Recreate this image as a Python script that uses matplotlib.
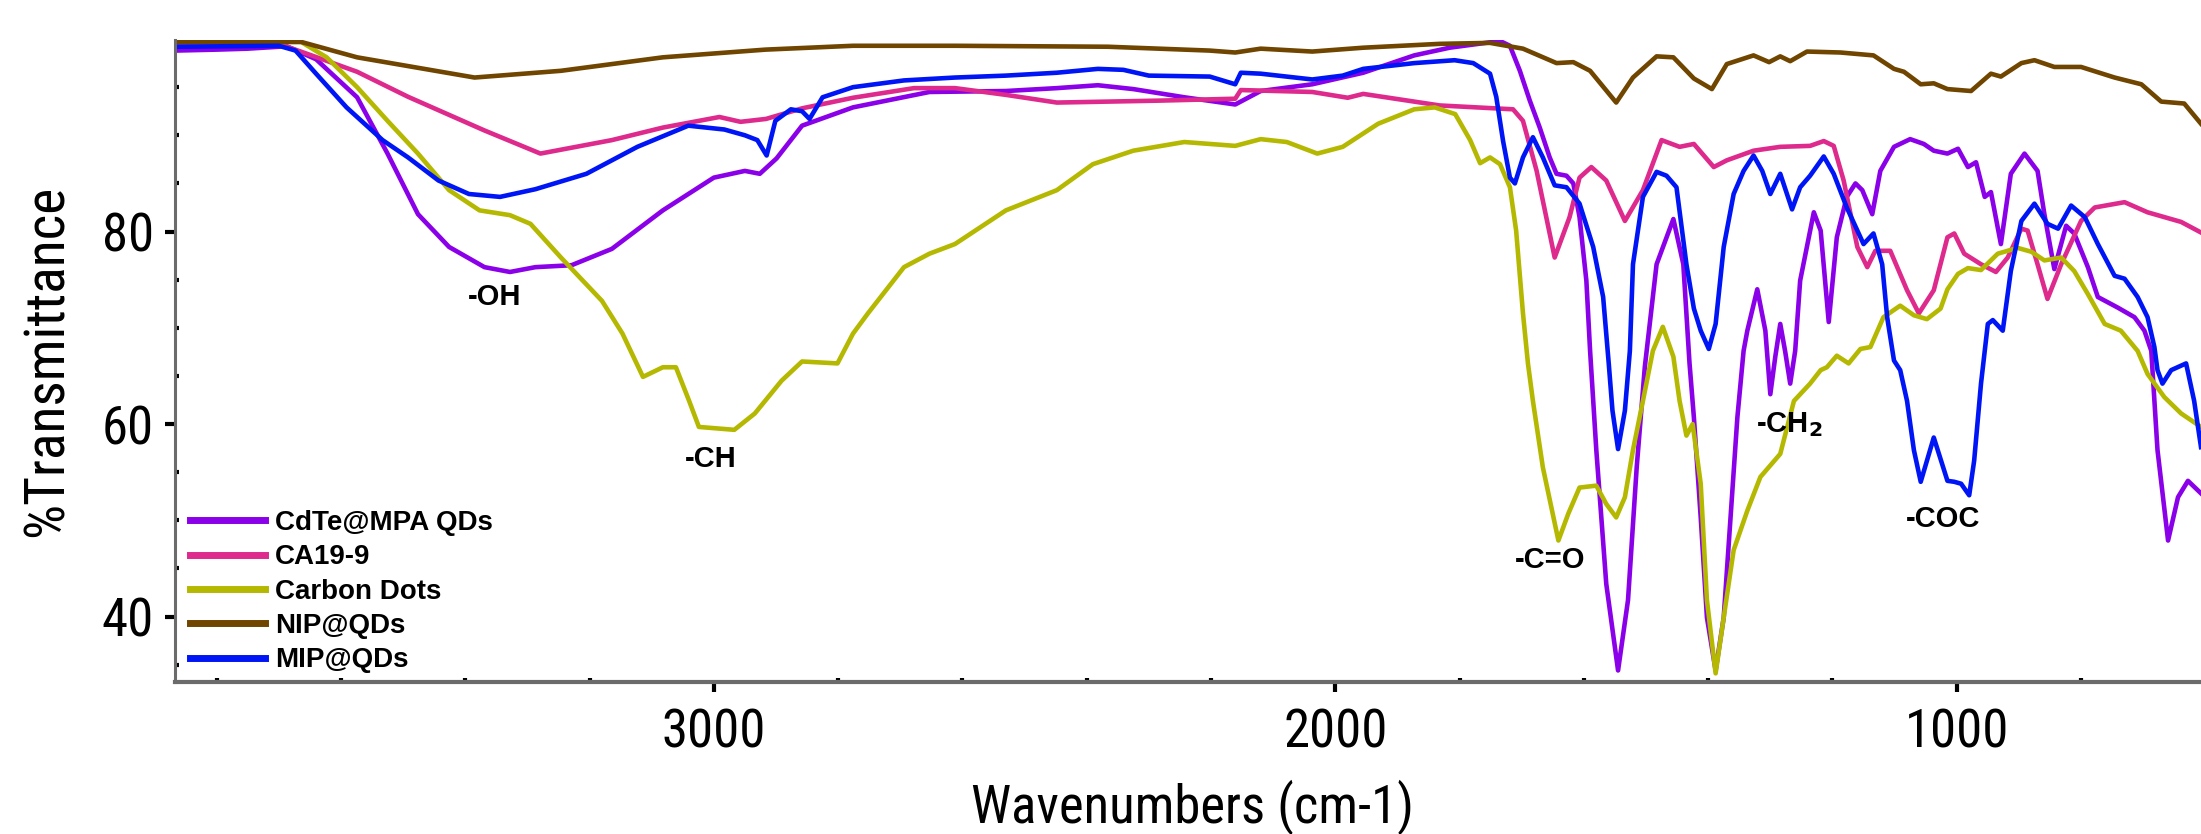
import matplotlib
matplotlib.use('Agg')
import logging
import matplotlib.pyplot as plt
from matplotlib.ticker import MultipleLocator, FixedLocator

logging.getLogger('matplotlib.font_manager').setLevel(logging.ERROR)

# FTIR spectra (wavenumber cm-1, %T)
cdte_wn = [3867, 3800, 3750, 3700, 3689, 3640, 3574, 3525, 3476, 3426, 3369, 3328, 3287, 3229, 3164,
           3082, 3000, 2950, 2926, 2899, 2858, 2776, 2653, 2530, 2448, 2382, 2325, 2243, 2161, 2120,
           2037, 1955, 1873, 1816, 1735, 1719, 1703, 1687, 1671, 1655, 1644, 1628, 1617, 1607, 1596,
           1590, 1580, 1564, 1545, 1529, 1515, 1502, 1483, 1456, 1440, 1430, 1423, 1412, 1402, 1388,
           1375, 1364, 1353, 1343, 1337, 1321, 1308, 1300, 1292, 1284, 1276, 1268, 1260, 1252, 1230,
           1219, 1206, 1193, 1177, 1163, 1152, 1136, 1123, 1101, 1075, 1053, 1037, 1015, 998, 982,
           969, 955, 945, 929, 913, 891, 870, 859, 843, 824, 811, 789, 773, 741, 714,
           698, 687, 677, 660, 644, 628, 607]
cdte_t = [98.8, 98.9, 99.0, 99.2, 99.3, 97.9, 93.95, 88.1, 81.8, 78.4, 76.3, 75.8, 76.3, 76.5, 78.2,
          82.2, 85.6, 86.3, 86.0, 87.6, 91.0, 92.9, 94.5, 94.6, 94.9, 95.2, 94.8, 93.95, 93.2, 94.6,
          95.3, 96.5, 98.3, 99.1, 99.8, 99.3, 96.7, 93.6, 90.8, 87.7, 86.0, 85.8, 85.0, 81.5, 74.9,
          67.6, 57.3, 43.4, 34.4, 41.7, 55.5, 65.9, 76.6, 81.3, 76.6, 66.3, 60.7, 50.3, 39.9, 34.4,
          39.9, 50.3, 60.7, 67.6, 69.7, 74.0, 69.7, 63.1, 67.0, 70.4, 67.5, 64.2, 67.6, 74.9, 82.0,
          80.1, 70.6, 79.4, 83.6, 85.0, 84.3, 81.8, 86.3, 88.8, 89.6, 89.1, 88.4, 88.1, 88.6, 86.7,
          87.2, 83.6, 84.1, 78.7, 86.0, 88.1, 86.3, 81.8, 76.1, 80.6, 79.8, 76.3, 73.2, 72.1, 71.1,
          69.7, 67.6, 57.3, 47.9, 52.4, 54.1, 52.8]

ca_wn = [3867, 3700, 3656, 3574, 3492, 3369, 3279, 3164, 3082, 2991, 2957, 2916, 2858, 2776, 2678,
         2612, 2530, 2448, 2284, 2161, 2152, 2037, 1980, 1955, 1832, 1714, 1698, 1676, 1647, 1623,
         1607, 1588, 1564, 1534, 1505, 1475, 1446, 1423, 1391, 1370, 1327, 1284, 1236, 1214, 1198,
         1182, 1160, 1144, 1131, 1107, 1080, 1061, 1037, 1015, 1004, 988, 961, 937, 918, 896,
         886, 870, 854, 832, 800, 778, 730, 693, 639, 607]
ca_t = [99.5, 99.5, 98.5, 96.6, 94.0, 90.5, 88.1, 89.5, 90.8, 91.9, 91.4, 91.7, 92.8, 93.9, 94.9,
        94.9, 94.2, 93.4, 93.6, 93.8, 94.7, 94.5, 93.9, 94.3, 93.1, 92.7, 91.5, 86.3, 77.3, 81.5,
        85.6, 86.7, 85.3, 81.1, 84.3, 89.5, 88.8, 89.1, 86.7, 87.4, 88.4, 88.8, 88.9, 89.4, 88.9,
        85.3, 78.4, 76.3, 78.0, 78.0, 73.9, 71.5, 73.9, 79.4, 79.8, 77.7, 76.6, 75.8, 77.3, 80.3,
        80.1, 76.6, 73.0, 76.6, 81.1, 82.5, 83.05, 82.0, 81.0, 79.9]

cd_wn = [3867, 3664, 3623, 3574, 3525, 3476, 3426, 3377, 3328, 3295, 3246, 3180, 3147, 3114, 3082,
         3061, 3040, 3024, 2967, 2934, 2891, 2858, 2801, 2776, 2752, 2694, 2653, 2612, 2530, 2448,
         2390, 2325, 2243, 2161, 2120, 2078, 2029, 1988, 1931, 1873, 1840, 1807, 1783, 1767, 1751,
         1735, 1719, 1709, 1698, 1690, 1682, 1666, 1641, 1625, 1607, 1580, 1564, 1548, 1534, 1521,
         1505, 1489, 1473, 1456, 1446, 1435, 1425, 1412, 1402, 1388, 1375, 1359, 1337, 1316, 1284,
         1262, 1236, 1219, 1209, 1193, 1174, 1155, 1139, 1118, 1091, 1069, 1048, 1026, 1015, 998,
         982, 961, 934, 902, 880, 859, 832, 811, 789, 762, 736, 709, 693, 666, 639, 607]
cd_t = [99.7, 99.7, 98.1, 95.0, 91.5, 88.1, 84.3, 82.2, 81.7, 80.8, 77.3, 72.8, 69.4, 64.9, 65.9,
        65.9, 62.45, 59.7, 59.4, 61.1, 64.5, 66.5, 66.3, 69.4, 71.5, 76.3, 77.7, 78.7, 82.2, 84.3,
        87.0, 88.4, 89.3, 88.9, 89.6, 89.3, 88.1, 88.8, 91.2, 92.7, 92.9, 92.2, 89.5, 87.1, 87.7,
        87.0, 84.6, 80.1, 71.5, 66.3, 62.4, 55.5, 47.9, 50.7, 53.4, 53.6, 51.7, 50.3, 52.4, 57.3,
        62.4, 67.6, 70.1, 67.0, 62.4, 58.8, 60.0, 53.8, 41.7, 34.1, 39.9, 46.9, 51.0, 54.5, 56.9,
        62.4, 64.2, 65.6, 65.9, 67.1, 66.3, 67.8, 68.0, 71.1, 72.3, 71.3, 70.9, 72.0, 74.0, 75.6,
        76.2, 76.0, 77.7, 78.3, 77.9, 77.0, 77.3, 75.9, 73.5, 70.4, 69.7, 67.6, 65.2, 62.8, 61.1, 59.7]

nip_wn = [3867, 3664, 3574, 3385, 3246, 3082, 2917, 2776, 2612, 2366, 2202, 2161, 2120, 2037, 1955,
          1832, 1751, 1698, 1644, 1617, 1590, 1548, 1521, 1483, 1456, 1423, 1394, 1370, 1327, 1302,
          1284, 1268, 1241, 1187, 1134, 1101, 1085, 1058, 1037, 1015, 977, 945, 929, 896, 875,
          843, 800, 746, 703, 671, 634, 607]
nip_t = [99.7, 99.7, 98.1, 96.0, 96.7, 98.1, 98.9, 99.3, 99.3, 99.2, 98.8, 98.6, 99.0, 98.7, 99.1,
         99.5, 99.6, 99.0, 97.5, 97.6, 96.7, 93.4, 96.0, 98.2, 98.1, 95.9, 94.8, 97.4, 98.3, 97.6,
         98.2, 97.7, 98.7, 98.6, 98.3, 96.9, 96.6, 95.3, 95.4, 94.8, 94.6, 96.4, 96.1, 97.5, 97.8,
         97.1, 97.1, 96.0, 95.3, 93.5, 93.3, 91.2]

mip_wn = [3867, 3700, 3673, 3640, 3591, 3533, 3492, 3443, 3394, 3344, 3287, 3205, 3123, 3041, 2983,
          2950, 2930, 2915, 2901, 2876, 2858, 2846, 2825, 2776, 2694, 2612, 2530, 2448, 2382, 2341,
          2300, 2202, 2161, 2152, 2120, 2037, 1988, 1955, 1873, 1808, 1778, 1751, 1741, 1730, 1719,
          1711, 1698, 1682, 1666, 1647, 1628, 1607, 1585, 1569, 1560, 1554, 1545, 1534, 1526, 1521,
          1505, 1483, 1467, 1451, 1435, 1423, 1412, 1399, 1388, 1375, 1359, 1343, 1327, 1313, 1300,
          1284, 1265, 1252, 1236, 1214, 1198, 1177, 1150, 1134, 1120, 1112, 1101, 1091, 1080, 1069,
          1058, 1037, 1015, 1004, 993, 980, 972, 961, 950, 942, 926, 913, 896, 875, 854,
          837, 816, 794, 773, 746, 730, 709, 693, 682, 677, 669, 655, 631, 618, 607]
mip_t = [99.2, 99.3, 98.8, 96.4, 92.9, 89.5, 87.7, 85.3, 83.9, 83.6, 84.4, 86.0, 88.8, 91.0, 90.6,
         90.0, 89.5, 87.9, 91.5, 92.7, 92.5, 91.7, 93.95, 95.0, 95.7, 96.0, 96.2, 96.5, 96.9, 96.8,
         96.2, 96.1, 95.3, 96.5, 96.4, 95.8, 96.2, 96.9, 97.5, 97.8, 97.5, 96.4, 94.0, 89.4, 85.6,
         85.0, 87.7, 89.8, 87.7, 84.8, 84.6, 82.9, 78.4, 73.2, 66.3, 61.4, 57.4, 61.4, 67.6, 76.6,
         83.6, 86.2, 85.8, 84.6, 76.6, 72.0, 69.7, 67.8, 70.4, 78.4, 83.9, 86.3, 87.9, 86.3, 83.9,
         86.0, 82.3, 84.6, 85.8, 87.8, 86.0, 82.5, 78.7, 79.8, 76.6, 71.1, 66.6, 65.6, 62.4, 57.3,
         54.0, 58.6, 54.1, 54.0, 53.8, 52.6, 56.2, 64.2, 70.4, 70.8, 69.7, 75.9, 81.1, 82.9, 80.8,
         80.3, 82.7, 81.5, 78.7, 75.4, 75.1, 73.2, 71.1, 68.0, 65.6, 64.2, 65.6, 66.3, 62.4, 57.6]

labels = ['CdTe@MPA QDs', 'CA19-9', 'Carbon Dots', 'NIP@QDs', 'MIP@QDs']
colors = ['#8a00e8', '#dd2a8c', '#b5b800', '#6f4500', '#0015f5']

# band labels and where they sit (wavenumber, %T)
band_text = ['-OH', '-CH', '-C=O', '-CH$_\\mathbf{2}$', '-COC']
band_wn = [3352, 3005, 1655, 1269, 1022]
band_t = [73.2, 56.4, 45.9, 59.9, 50.1]

# narrow font for the axis text, plain bold for legend / band labels
narrow = ['Roboto Condensed', 'Archivo Narrow', 'PT Sans Narrow', 'Sofia Sans Condensed',
          'Liberation Sans', 'DejaVu Sans']
bold = ['Liberation Sans', 'DejaVu Sans']

fig = plt.figure(figsize=(22.01, 8.34), dpi=100)
ax = fig.add_axes([175 / 2201, 152 / 834, 2026 / 2201, 642 / 834])

series = [(cdte_wn, cdte_t), (ca_wn, ca_t), (cd_wn, cd_t), (nip_wn, nip_t), (mip_wn, mip_t)]
for (wn, t), lab, c in zip(series, labels, colors):
    ax.plot(wn, t, color=c, lw=3.3, label=lab, solid_joinstyle='round')

for txt, x, y in zip(band_text, band_wn, band_t):
    ax.text(x, y, txt, ha='center', va='center', fontsize=21, fontweight='bold', family=bold)

# axes
ax.set_xlim(3867, 607)
ax.set_ylim(33.2, 99.9)
ax.xaxis.set_major_locator(FixedLocator([3000, 2000, 1000]))
ax.xaxis.set_minor_locator(MultipleLocator(200))
ax.yaxis.set_major_locator(FixedLocator([40, 60, 80]))
ax.yaxis.set_minor_locator(MultipleLocator(5))

for s in ['top', 'right']:
    ax.spines[s].set_visible(False)
ax.spines['left'].set_color('#6b6b6b')
ax.spines['left'].set_linewidth(2.2)
ax.spines['bottom'].set_color('#6b6b6b')
ax.spines['bottom'].set_linewidth(3)

ax.tick_params(which='major', direction='out', length=7, width=3, color='black')
ax.tick_params(which='minor', direction='in', length=3, width=3, color='black')
ax.tick_params(axis='x', which='major', pad=11)
ax.tick_params(axis='y', which='major', pad=8)
for lab in ax.get_xticklabels() + ax.get_yticklabels():
    lab.set_family(narrow)
    lab.set_fontsize(38)

ax.set_xlabel('Wavenumbers (cm-1)', family=narrow, fontsize=38)
ax.xaxis.set_label_coords(0.502, -0.152)
ax.set_ylabel('%Transmittance', family=narrow, fontsize=40)
ax.yaxis.set_label_coords(-0.05, 0.5)

leg = ax.legend(loc='upper left', bbox_to_anchor=(0.0074, 0.268), frameon=False,
                prop={'family': bold, 'weight': 'bold', 'size': 20},
                handlelength=2.7, handletextpad=0.35, labelspacing=0.3,
                borderpad=0, borderaxespad=0)
for line in leg.get_lines():
    line.set_linewidth(5)

fig.savefig('out.png', dpi=100)
